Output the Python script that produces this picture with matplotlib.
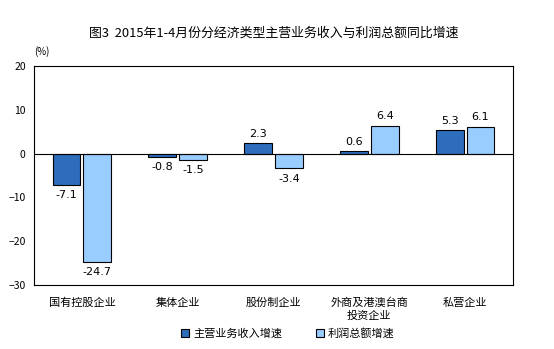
import numpy as np
import matplotlib.pyplot as plt

plt.rcParams['font.family'] = ['Noto Sans CJK SC', 'DejaVu Sans']

categories = ['国有控股企业', '集体企业', '股份制企业', '外商及港澳台商\n投资企业', '私营企业']
revenue = [-7.1, -0.8, 2.3, 0.6, 5.3]
profit = [-24.7, -1.5, -3.4, 6.4, 6.1]

fig = plt.figure(figsize=(5.54, 3.49), dpi=100)
ax = fig.add_axes([0.0614, 0.1834, 0.8646, 0.6276])

x = np.arange(len(categories))
w = 0.29
b1 = ax.bar(x - w / 2 - 0.015, revenue, w, color='#2E6DBC', edgecolor='black', linewidth=0.8,
            label='主营业务收入增速')
b2 = ax.bar(x + w / 2 + 0.015, profit, w, color='#99CCFF', edgecolor='black', linewidth=0.8,
            label='利润总额增速')

for bars, vals in ((b1, revenue), (b2, profit)):
    for r, v in zip(bars, vals):
        cx = r.get_x() + r.get_width() / 2
        if v >= 0:
            ax.text(cx, v + 1.0, f'{v}', ha='center', va='bottom', fontsize=8,
                    family='DejaVu Sans')
        else:
            ax.text(cx, v - 1.2, f'{v}', ha='center', va='top', fontsize=8,
                    family='DejaVu Sans')

ax.axhline(0, color='black', linewidth=0.8)
ax.set_xlim(-0.5, 4.5)
ax.set_ylim(-30, 20)
ax.set_yticks(range(-30, 21, 10))
ax.set_xticks(x)
ax.set_xticklabels(categories, fontsize=8, linespacing=1.3)
ax.tick_params(axis='x', length=0, pad=9)
ax.tick_params(axis='y', labelsize=7.5, length=0, pad=6)
for s in ax.spines.values():
    s.set_linewidth(0.8)

ax.text(0.0, 1.04, '(%)', transform=ax.transAxes, fontsize=7, ha='left', va='bottom')
fig.text(0.495, 0.905, '图3  2015年1-4月份分经济类型主营业务收入与利润总额同比增速',
         ha='center', va='center', fontsize=9.3)

fig.legend(handles=[b1, b2], loc='lower center', bbox_to_anchor=(0.52, 0.0), ncol=2,
           frameon=False, fontsize=8, handlelength=0.7, handleheight=0.7,
           columnspacing=3, handletextpad=0.4)

fig.savefig('out.png', dpi=100)
